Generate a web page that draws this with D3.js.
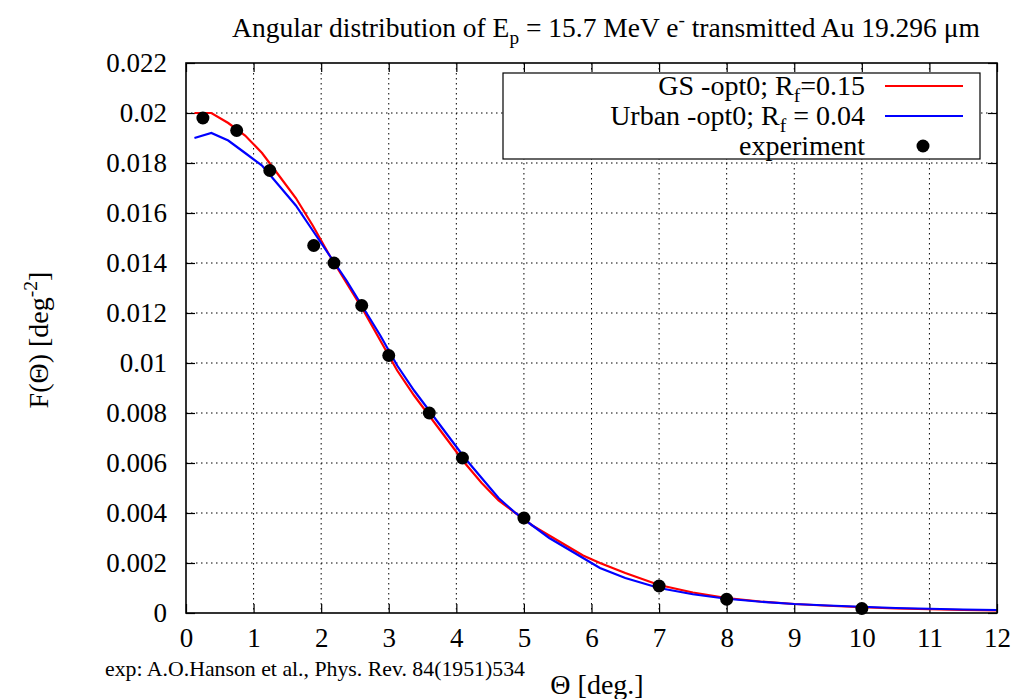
<!DOCTYPE html>
<html>
<head>
<meta charset="utf-8">
<script src="https://cdn.jsdelivr.net/npm/d3@7"></script>
<style>
  body { margin: 0; background: #fff; }
  svg text { font-family: "Liberation Serif", "DejaVu Serif", serif; fill: #000; }
  .grid line { stroke: #000; stroke-width: 1; stroke-dasharray: 1.5 3.5; }
  .tk line { stroke: #000; stroke-width: 1.2; }
  .tk text { font-size: 27px; font-family: "Liberation Serif", serif; }
</style>
</head>
<body>
<div id="chart"></div>
<script>
// hoek (graden) van de gesimuleerde bins
const thetaSim = [0.125, 0.375, 0.625, 0.875, 1.125, 1.375, 1.625, 1.875, 2.125, 2.375,
  2.625, 2.875, 3.125, 3.375, 3.625, 3.875, 4.125, 4.375, 4.625, 4.875,
  5.125, 5.375, 5.625, 5.875, 6.125, 6.5, 7, 7.5, 8, 8.5, 9, 9.5, 10, 10.5, 11, 11.5, 12];

// GS -opt0, Rf=0.15
const gsValues = [0.0200, 0.0200, 0.0196, 0.0191, 0.0184, 0.0175, 0.0166, 0.0155, 0.0143, 0.0132,
  0.0121, 0.0109, 0.0097, 0.0087, 0.0078, 0.0069, 0.0060, 0.0052, 0.0045, 0.0040,
  0.0035, 0.0031, 0.0027, 0.0023, 0.0020, 0.0016, 0.00112, 0.00082, 0.00060, 0.00046,
  0.00036, 0.00029, 0.00023, 0.00018, 0.00015, 0.00012, 0.00010];

// Urban -opt0, Rf=0.04
const urbanValues = [0.0190, 0.0192, 0.0189, 0.0184, 0.0179, 0.0171, 0.0163, 0.0153, 0.0143, 0.0133,
  0.0122, 0.0111, 0.0099, 0.0089, 0.0080, 0.0071, 0.0062, 0.0054, 0.0046, 0.0040,
  0.0035, 0.0030, 0.0026, 0.0022, 0.0018, 0.0014, 0.00100, 0.00075, 0.00057, 0.00045,
  0.00036, 0.00030, 0.00025, 0.00020, 0.00017, 0.00014, 0.00012];

// experiment (Hanson et al.)
const expTheta = [0.25, 0.75, 1.24, 1.89, 2.19, 2.6, 3.0, 3.6, 4.09, 5.0, 7.0, 8.0, 10.0];
const expValues = [0.0198, 0.0193, 0.0177, 0.0147, 0.0140, 0.0123, 0.0103, 0.0080, 0.0062, 0.0038, 0.00108, 0.00055, 0.00018];

const xTicks = [0, 1, 2, 3, 4, 5, 6, 7, 8, 9, 10, 11, 12];
const yTicks = [0, 0.002, 0.004, 0.006, 0.008, 0.01, 0.012, 0.014, 0.016, 0.018, 0.02, 0.022];

// --- SETUP ---
const W = 1017, H = 699;
const margin = {top: 63, right: 20, bottom: 86, left: 186};
const width = W - margin.left - margin.right;
const height = H - margin.top - margin.bottom;
const serif = "Liberation Serif, DejaVu Serif, serif";

const svg = d3.select("#chart").append("svg")
  .attr("width", W).attr("height", H);

const g = svg.append("g").attr("transform", `translate(${margin.left},${margin.top})`);

const x = d3.scaleLinear().domain([0, 12]).range([0, width]);
const y = d3.scaleLinear().domain([0, 0.022]).range([height, 0]);
const fmt = d => String(+d.toFixed(3));

// grid (gestippeld)
g.append("g").attr("class", "grid")
  .selectAll("line").data(xTicks.slice(1, -1)).enter().append("line")
  .attr("x1", d => x(d)).attr("x2", d => x(d)).attr("y1", 0).attr("y2", height);
g.append("g").attr("class", "grid")
  .selectAll("line").data(yTicks.slice(1, -1)).enter().append("line")
  .attr("y1", d => y(d)).attr("y2", d => y(d)).attr("x1", 0).attr("x2", width);

// assen met ticks naar binnen, ook gespiegeld
const tick = 9;
g.append("g").attr("class", "tk")
  .call(d3.axisLeft(y).tickValues(yTicks).tickSizeInner(-tick).tickSizeOuter(0).tickPadding(19).tickFormat(fmt));
g.append("g").attr("class", "tk").attr("transform", `translate(${width},0)`)
  .call(d3.axisRight(y).tickValues(yTicks).tickSizeInner(-tick).tickSizeOuter(0).tickFormat(""));
g.append("g").attr("class", "tk").attr("transform", `translate(0,${height})`)
  .call(d3.axisBottom(x).tickValues(xTicks).tickSizeInner(-tick).tickSizeOuter(0).tickPadding(15).tickFormat(d3.format("d")));
g.append("g").attr("class", "tk")
  .call(d3.axisTop(x).tickValues(xTicks).tickSizeInner(-tick).tickSizeOuter(0).tickFormat(""));
g.selectAll(".tk .domain").remove();
g.selectAll(".tk").attr("font-family", serif);

// lijnen
const line = vals => d3.line().x((d, i) => x(thetaSim[i])).y(d => y(d))(vals);
g.append("path").attr("d", line(gsValues))
  .attr("fill", "none").attr("stroke", "#ff0000").attr("stroke-width", 2.2);
g.append("path").attr("d", line(urbanValues))
  .attr("fill", "none").attr("stroke", "#0000ff").attr("stroke-width", 2.2);

// punten
g.selectAll(".dot").data(expValues).enter().append("circle")
  .attr("class", "dot")
  .attr("cx", (d, i) => x(expTheta[i]))
  .attr("cy", d => y(d))
  .attr("r", 6.5).attr("fill", "#000");

// frame
g.append("rect").attr("width", width).attr("height", height)
  .attr("fill", "none").attr("stroke", "#000").attr("stroke-width", 1.6);

// --- LEGENDA ---
const leg = svg.append("g");
leg.append("rect").attr("x", 503).attr("y", 73).attr("width", 477).attr("height", 86)
  .attr("fill", "#fff").attr("stroke", "#000").attr("stroke-width", 1.2);

function subText(sel, parts) {
  parts.forEach(p => {
    const t = sel.append("tspan").text(p.t);
    if (p.sub) t.attr("font-size", "0.7em").attr("dy", 7);
    else if (p.sup) t.attr("font-size", "0.7em").attr("dy", -11);
    if (p.back) t.attr("dy", p.back);
  });
}

const legRows = [
  {parts: [{t: "GS -opt0; R"}, {t: "f", sub: true}, {t: "=0.15", back: -7}], color: "#ff0000"},
  {parts: [{t: "Urban -opt0; R"}, {t: "f", sub: true}, {t: " = 0.04", back: -7}], color: "#0000ff"},
  {parts: [{t: "experiment"}], color: null}
];
legRows.forEach((r, i) => {
  const cy = 86 + i * 30;
  const t = leg.append("text").attr("x", 865).attr("y", cy + 9)
    .attr("text-anchor", "end").attr("font-size", 28).attr("font-family", serif);
  subText(t, r.parts);
  if (r.color) {
    leg.append("line").attr("x1", 885).attr("x2", 963).attr("y1", cy).attr("y2", cy)
      .attr("stroke", r.color).attr("stroke-width", 2.2);
  } else {
    leg.append("circle").attr("cx", 923).attr("cy", cy).attr("r", 6.5).attr("fill", "#000");
  }
});

// --- TITELS ---
const title = svg.append("text").attr("x", 606).attr("y", 37)
  .attr("text-anchor", "middle").attr("font-size", 27.5).attr("font-family", serif);
subText(title, [
  {t: "Angular distribution of E"}, {t: "p", sub: true},
  {t: " = 15.7 MeV e", back: -7}, {t: "-", sup: true},
  {t: " transmitted Au 19.296 μm", back: 11}
]);

const yl = svg.append("text").attr("transform", "translate(48,340) rotate(-90)")
  .attr("text-anchor", "middle").attr("font-size", 28).attr("font-family", serif);
subText(yl, [{t: "F(Θ) [deg"}, {t: "-2", sup: true}, {t: "]", back: 11}]);

svg.append("text").attr("x", 597).attr("y", 694).attr("text-anchor", "middle")
  .attr("font-size", 28).attr("font-family", serif).text("Θ [deg.]");

svg.append("text").attr("x", 105).attr("y", 676).attr("font-size", 21.8).attr("font-family", serif)
  .text("exp: A.O.Hanson et al., Phys. Rev. 84(1951)534");
</script>
</body>
</html>
